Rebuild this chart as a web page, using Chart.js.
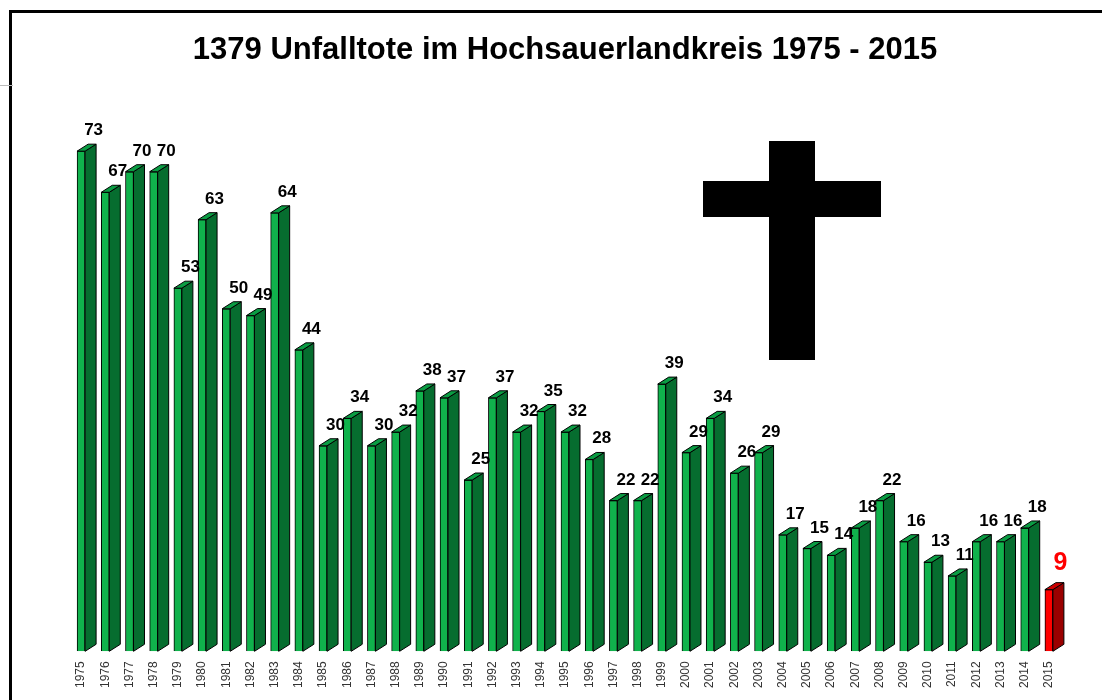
<!DOCTYPE html>
<html lang="de">
<head>
<meta charset="utf-8">
<title>Unfalltote im Hochsauerlandkreis</title>
<script src="https://cdn.jsdelivr.net/npm/chart.js@4.4.1/dist/chart.umd.min.js"></script>
<style>
  html, body { margin: 0; padding: 0; background: #fff; overflow: hidden; }
  .frame { position: absolute; left: 9px; top: 10px; width: 1300px; height: 900px; border-left: 3px solid #000; border-top: 3px solid #000; }
  .mark { position: absolute; left: 0; top: 85px; width: 13px; height: 1px; background: #bbb; }
  .chart-box { position: absolute; left: 0; top: 0; width: 1140px; height: 700px; }
</style>
</head>
<body>
<div class="frame"></div>
<div class="mark"></div>
<div class="chart-box"><canvas id="unfallChart"></canvas></div>
<script>
// Daten
const jahre = ['1975', '1976', '1977', '1978', '1979', '1980', '1981', '1982', '1983', '1984',
               '1985', '1986', '1987', '1988', '1989', '1990', '1991', '1992', '1993', '1994',
               '1995', '1996', '1997', '1998', '1999', '2000', '2001', '2002', '2003', '2004',
               '2005', '2006', '2007', '2008', '2009', '2010', '2011', '2012', '2013', '2014',
               '2015'];
const unfalltote = [73, 67, 70, 70, 53, 63, 50, 49, 64, 44,
                    30, 34, 30, 32, 38, 37, 25, 37, 32, 35,
                    32, 28, 22, 22, 39, 29, 34, 26, 29, 17,
                    15, 14, 18, 22, 16, 13, 11, 16, 16, 18,
                    9];
const titel = '1379 Unfalltote im Hochsauerlandkreis 1975 - 2015';

// Farben: Front, Seite, Deckel
const gruen = { front: '#10b24c', seite: '#066d2f', deckel: '#0a9c43' };
const rot = { front: '#ff0000', seite: '#9a0000', deckel: '#cc0000' };
const letzter = jahre.length - 1;
const farbe = i => (i === letzter ? rot : gruen);

const tiefeX = 11;
const tiefeY = 7;

// 3D-Seiten, Deckel und Werte über den Balken
const balken3d = {
    id: 'balken3d',
    afterDatasetsDraw(chart) {
        const ctx = chart.ctx;
        const meta = chart.getDatasetMeta(0);
        ctx.save();
        ctx.lineWidth = 1;
        ctx.strokeStyle = '#000';
        meta.data.forEach((bar, i) => {
            const p = bar.getProps(['x', 'y', 'base', 'width'], true);
            const l = p.x - p.width / 2;
            const r = p.x + p.width / 2;
            const f = farbe(i);
            // Seite
            ctx.beginPath();
            ctx.moveTo(r, p.y);
            ctx.lineTo(r + tiefeX, p.y - tiefeY);
            ctx.lineTo(r + tiefeX, p.base - tiefeY);
            ctx.lineTo(r, p.base);
            ctx.closePath();
            ctx.fillStyle = f.seite;
            ctx.fill();
            ctx.stroke();
            // Deckel
            ctx.beginPath();
            ctx.moveTo(l, p.y);
            ctx.lineTo(l + tiefeX, p.y - tiefeY);
            ctx.lineTo(r + tiefeX, p.y - tiefeY);
            ctx.lineTo(r, p.y);
            ctx.closePath();
            ctx.fillStyle = f.deckel;
            ctx.fill();
            ctx.stroke();
            // Wert
            ctx.textAlign = 'center';
            ctx.textBaseline = 'alphabetic';
            if (i === letzter) {
                ctx.fillStyle = '#ff0000';
                ctx.font = 'bold 25px "Liberation Sans", Arial, sans-serif';
                ctx.fillText(unfalltote[i], r + tiefeX / 2 + 2, p.y - tiefeY - 13);
            } else {
                ctx.fillStyle = '#000';
                ctx.font = 'bold 17px "Liberation Sans", Arial, sans-serif';
                ctx.fillText(unfalltote[i], r + tiefeX / 2 + 3, p.y - tiefeY - 9);
            }
        });
        ctx.restore();
    }
};

// Kreuz
const kreuz = {
    id: 'kreuz',
    afterDraw(chart) {
        const ctx = chart.ctx;
        ctx.save();
        ctx.fillStyle = '#000';
        ctx.fillRect(769, 141, 46, 219);
        ctx.fillRect(703, 181, 178, 36);
        ctx.restore();
    }
};

const ctx = document.getElementById('unfallChart').getContext('2d');
const unfallChart = new Chart(ctx, {
    type: 'bar',
    data: {
        labels: jahre,
        datasets: [{
            data: unfalltote,
            backgroundColor: unfalltote.map((v, i) => farbe(i).front),
            borderColor: '#000',
            borderWidth: 1,
            barThickness: 8
        }]
    },
    options: {
        responsive: true,
        maintainAspectRatio: false,
        animation: false,
        layout: {
            padding: { left: 69, right: 79, top: 0, bottom: 2 }
        },
        plugins: {
            legend: { display: false },
            tooltip: { enabled: false },
            title: {
                display: true,
                text: titel,
                color: '#000',
                font: { family: '"Liberation Sans", Arial, sans-serif', size: 31, weight: 'bold' },
                padding: { top: 32, bottom: 34 }
            }
        },
        scales: {
            x: {
                grid: { display: false, drawTicks: false },
                border: { display: false },
                ticks: {
                    color: '#333',
                    font: { family: '"Liberation Sans", Arial, sans-serif', size: 12 },
                    minRotation: 90,
                    maxRotation: 90,
                    autoSkip: false,
                    padding: 10
                }
            },
            y: {
                display: false,
                min: 0,
                max: 80
            }
        }
    },
    plugins: [balken3d, kreuz]
});
</script>
</body>
</html>
